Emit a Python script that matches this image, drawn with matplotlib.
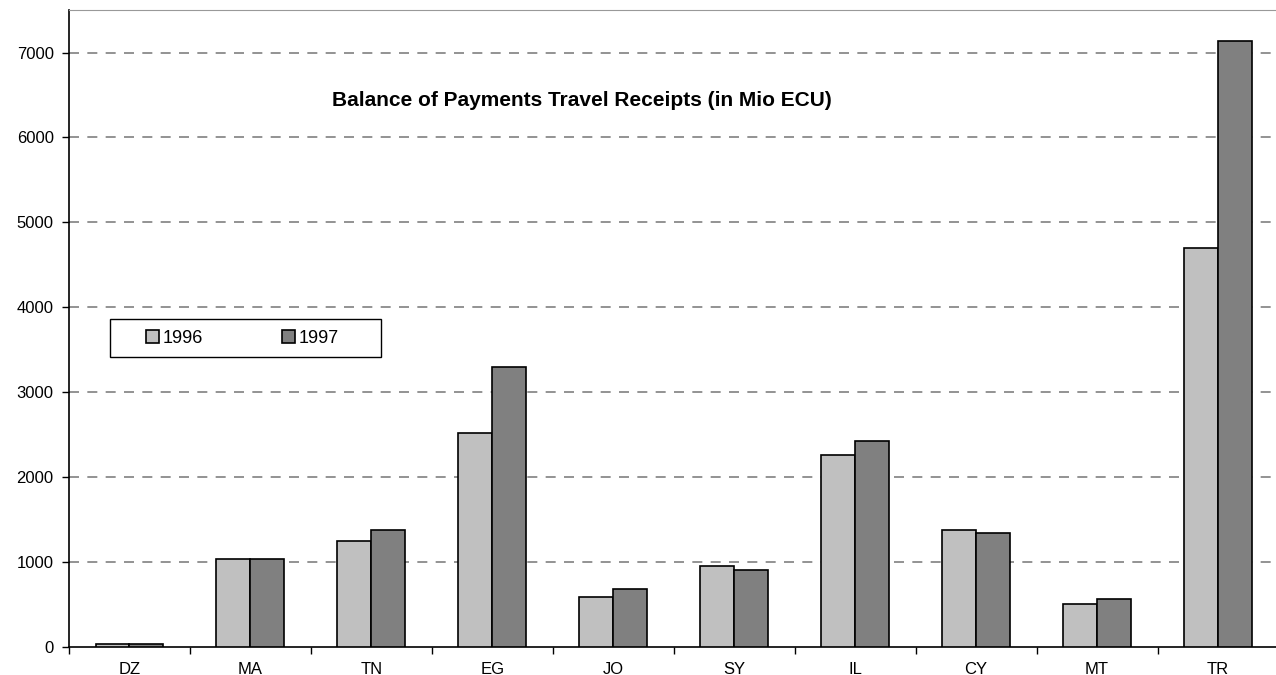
import matplotlib.pyplot as plt
import matplotlib.patches as mpatches
import numpy as np

countries = ["DZ", "MA", "TN", "EG", "JO", "SY", "IL", "CY", "MT", "TR"]
y1996 = [40, 1040, 1250, 2525, 590, 955, 2265, 1380, 505, 4700]
y1997 = [30, 1040, 1375, 3295, 685, 910, 2420, 1345, 570, 7140]

plt.rcParams['font.family'] = ['Liberation Sans', 'DejaVu Sans']

fig = plt.figure(figsize=(12.76, 6.75), dpi=100)
ax = fig.add_axes([0.054, 0.0415, 0.948, 0.9435])

x = np.arange(len(countries))
w = 0.28
ax.bar(x - w / 2, y1996, w, color="#c0c0c0", edgecolor="black", linewidth=1.2, label="1996", zorder=3)
ax.bar(x + w / 2, y1997, w, color="#808080", edgecolor="black", linewidth=1.2, label="1997", zorder=3)

ax.set_xlim(-0.5, len(countries) - 0.5)
ax.set_ylim(0, 7500)
ax.set_yticks(range(0, 8000, 1000))
ax.tick_params(axis="y", labelsize=12)
for yv in range(1000, 8000, 1000):
    ax.axhline(yv, color="#808080", linestyle=(0, (6, 5)), linewidth=1.2, zorder=1)

ax.set_xticks(np.arange(-0.5, len(countries), 1))
ax.set_xticklabels([])
ax.set_xticks(x, minor=True)
ax.set_xticklabels(countries, minor=True, fontsize=12)
ax.tick_params(axis="x", which="minor", length=0, pad=11)
ax.tick_params(axis="x", which="major", direction="out", length=5, width=1)
ax.tick_params(axis="y", direction="out", length=5, width=1, pad=6)

ax.spines["right"].set_visible(False)
ax.spines["top"].set_color("#999999")
ax.spines["left"].set_linewidth(1.2)
ax.spines["bottom"].set_linewidth(1.2)

ax.text(0.424, 0.858, "Balance of Payments Travel Receipts (in Mio ECU)", transform=ax.transAxes,
        ha="center", va="center", fontsize=15, fontweight="bold")

# legend frame drawn separately, it is much wider than the entries
ax.add_patch(mpatches.Rectangle((0.0339, 0.455), 0.224, 0.0597, transform=ax.transAxes,
                                facecolor="white", edgecolor="black", linewidth=1.0, zorder=4))
leg = ax.legend(loc="center left", bbox_to_anchor=(0.0636, 0.485), ncol=2, fontsize=13,
                frameon=False, handlelength=0.75, handleheight=0.75, columnspacing=4.35,
                handletextpad=0.2, borderpad=0, borderaxespad=0)
leg.set_zorder(5)

fig.savefig("out.png", dpi=100)
